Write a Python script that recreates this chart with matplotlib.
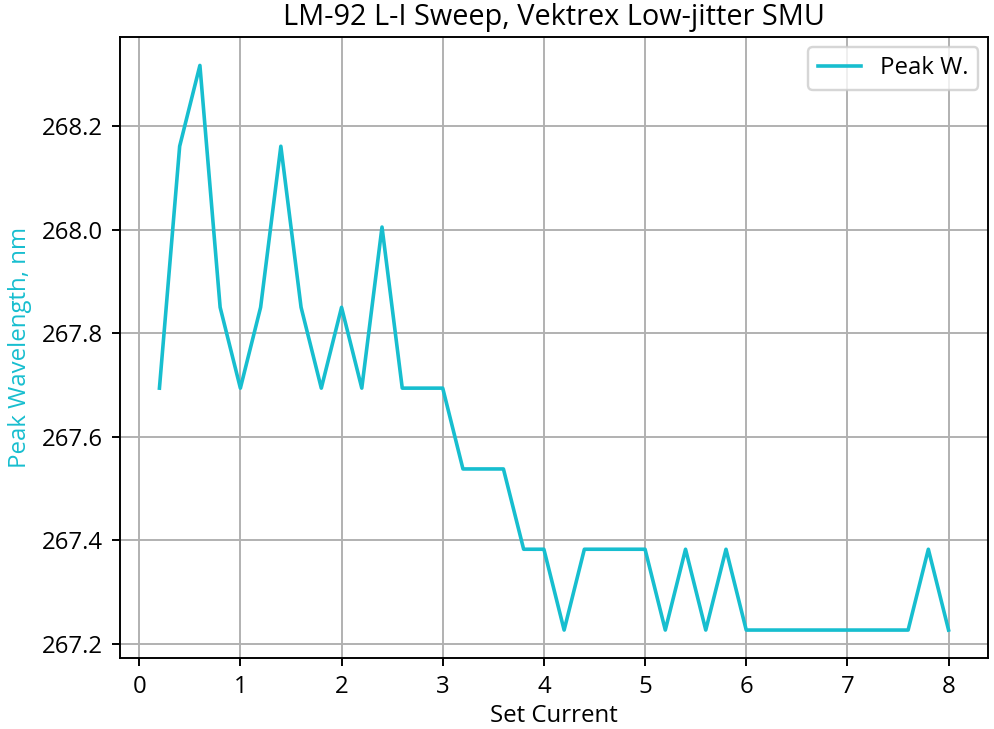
import matplotlib
matplotlib.use("Agg")
import matplotlib.pyplot as plt

plt.rcParams["font.family"] = ["Open Sans", "DejaVu Sans"]

# set current sweep, 0.2 A steps
set_current = [round(0.2 * i, 1) for i in range(1, 41)]
peak_wavelength = [
    267.694, 268.161, 268.317, 267.850, 267.694, 267.850, 268.161, 267.850,
    267.694, 267.850, 267.694, 268.005, 267.694, 267.694, 267.694, 267.538,
    267.538, 267.538, 267.383, 267.383, 267.227, 267.383, 267.383, 267.383,
    267.383, 267.227, 267.383, 267.227, 267.383, 267.227, 267.227, 267.227,
    267.227, 267.227, 267.227, 267.227, 267.227, 267.227, 267.383, 267.227,
]

color = "tab:cyan"
dpi = 173

fig, ax = plt.subplots(figsize=(994 / dpi, 729 / dpi), dpi=dpi)
fig.subplots_adjust(left=0.1207, right=0.994, top=0.949, bottom=0.097)

ax.plot(set_current, peak_wavelength, color=color, label="Peak W.")
ax.set_title("LM-92 L-I Sweep, Vektrex Low-jitter SMU", pad=5)
ax.set_xlabel("Set Current", labelpad=2)
ax.set_ylabel("Peak Wavelength, nm", color=color)
ax.grid(True)
ax.legend(loc="upper right", handlelength=1.8, borderaxespad=0.4)

fig.savefig("out.png", dpi=dpi)
